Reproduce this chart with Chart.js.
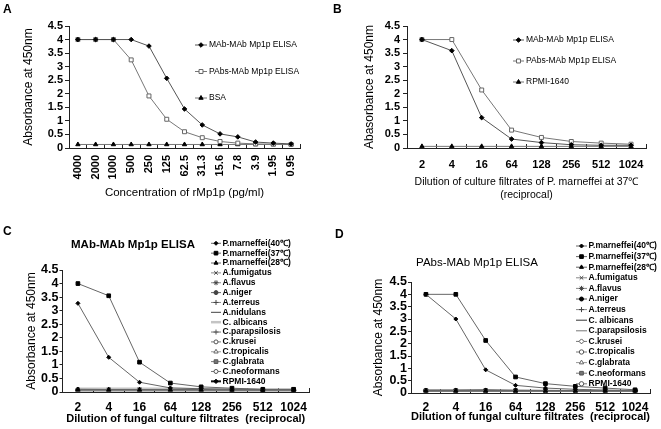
<!DOCTYPE html>
<html>
<head>
<meta charset="utf-8">
<script src="https://cdn.jsdelivr.net/npm/chart.js@4.4.1/dist/chart.umd.min.js"></script>
<style>
  body { margin: 0; background: #fff; }
  #wrap { position: relative; width: 661px; height: 429px; overflow: hidden; font-family: "Liberation Sans", Arial, sans-serif; }
  canvas { position: absolute; }
  .lbl { position: absolute; font-weight: bold; font-size: 12px; line-height: 12px; color: #000; }
  .ttl { position: absolute; font-size: 11.5px; line-height: 12px; color: #000; text-align: center; white-space: nowrap; }
</style>
</head>
<body>
<div id="wrap">
  <canvas id="cA" width="330" height="215" style="left:0;top:0"></canvas>
  <canvas id="cB" width="331" height="215" style="left:330px;top:0"></canvas>
  <canvas id="cC" width="330" height="214" style="left:0;top:215px"></canvas>
  <canvas id="cD" width="331" height="214" style="left:330px;top:215px"></canvas>
  <div class="lbl" style="left:3px;top:3px">A</div>
  <div class="lbl" style="left:333px;top:3px">B</div>
  <div class="lbl" style="left:3px;top:225px">C</div>
  <div class="lbl" style="left:335px;top:228px">D</div>
  <div class="ttl" style="left:60px;top:238px;width:146px;font-weight:bold">MAb-MAb Mp1p ELISA</div>
  <div class="ttl" style="left:404px;top:256px;width:146px">PAbs-MAb Mp1p ELISA</div>
</div>
<script>
// ---- data ----
const concLabels = ['4000', '2000', '1000', '500', '250', '125', '62.5', '31.3', '15.6', '7.8', '3.9', '1.95', '0.95'];
const aMabMab = [4, 4, 4, 4, 3.76, 2.57, 1.44, 0.85, 0.52, 0.41, 0.22, 0.18, 0.15];
const aPabsMab = [4, 4, 4, 3.25, 1.92, 1.06, 0.6, 0.38, 0.24, 0.18, 0.15, 0.14, 0.13];
const aBsa = [0.13, 0.13, 0.13, 0.13, 0.13, 0.13, 0.13, 0.13, 0.13, 0.13, 0.13, 0.13, 0.13];

const dilLabels = ['2', '4', '16', '64', '128', '256', '512', '1024'];
const bMabMab = [4, 3.59, 1.12, 0.33, 0.2, 0.12, 0.1, 0.1];
const bPabsMab = [4, 4, 2.14, 0.66, 0.39, 0.24, 0.18, 0.14];
const bRpmi = [0.06, 0.06, 0.06, 0.06, 0.06, 0.06, 0.06, 0.06];

// panel C, MAb-MAb Mp1p ELISA
const cNames = ['P.marneffei(40\u2103)', 'P.marneffei(37\u2103)', 'P.marneffei(28\u2103)', 'A.fumigatus', 'A.flavus', 'A.niger',
  'A.terreus', 'A.nidulans', 'C. albicans', 'C.parapsilosis', 'C.krusei', 'C.tropicalis', 'C.glabrata', 'C.neoformans', 'RPMI-1640'];
const cValues = [
  [3.27, 1.28, 0.36, 0.15, 0.12, 0.1, 0.09, 0.09],
  [4, 3.55, 1.1, 0.33, 0.19, 0.14, 0.1, 0.1],
  [0.1, 0.09, 0.09, 0.09, 0.09, 0.08, 0.08, 0.08],
  [0.08, 0.08, 0.08, 0.08, 0.08, 0.08, 0.08, 0.08],
  [0.07, 0.07, 0.07, 0.07, 0.07, 0.07, 0.07, 0.07],
  [0.08, 0.08, 0.08, 0.08, 0.08, 0.07, 0.07, 0.07],
  [0.07, 0.07, 0.07, 0.07, 0.07, 0.07, 0.07, 0.07],
  [0.06, 0.06, 0.06, 0.06, 0.06, 0.06, 0.06, 0.06],
  [0.12, 0.12, 0.12, 0.12, 0.1, 0.1, 0.08, 0.08],
  [0.07, 0.07, 0.07, 0.07, 0.07, 0.07, 0.07, 0.07],
  [0.06, 0.06, 0.06, 0.06, 0.06, 0.06, 0.06, 0.06],
  [0.07, 0.07, 0.07, 0.07, 0.07, 0.07, 0.07, 0.07],
  [0.08, 0.08, 0.08, 0.08, 0.08, 0.08, 0.08, 0.08],
  [0.07, 0.07, 0.07, 0.07, 0.07, 0.07, 0.07, 0.07],
  [0.06, 0.06, 0.06, 0.06, 0.06, 0.06, 0.06, 0.06]
];

// panel D, PAbs-MAb Mp1p ELISA
const dNames = ['P.marneffei(40\u2103)', 'P.marneffei(37\u2103)', 'P.marneffei(28\u2103)', 'A.fumigatus', 'A.flavus', 'A.niger',
  'A.terreus', 'C. albicans', 'C.parapsilosis', 'C.krusei', 'C.tropicalis', 'C.glabrata', 'C.neoformans', 'RPMI-1640'];
const dValues = [
  [4, 3, 0.94, 0.31, 0.2, 0.15, 0.12, 0.1],
  [4, 4, 2.13, 0.65, 0.38, 0.27, 0.2, 0.13],
  [0.1, 0.1, 0.1, 0.1, 0.1, 0.1, 0.1, 0.1],
  [0.09, 0.09, 0.09, 0.09, 0.09, 0.09, 0.09, 0.09],
  [0.09, 0.09, 0.09, 0.09, 0.09, 0.09, 0.09, 0.09],
  [0.1, 0.1, 0.1, 0.1, 0.1, 0.1, 0.1, 0.1],
  [0.09, 0.09, 0.09, 0.09, 0.09, 0.09, 0.09, 0.09],
  [0.08, 0.08, 0.08, 0.08, 0.08, 0.08, 0.08, 0.08],
  [0.13, 0.13, 0.14, 0.12, 0.11, 0.1, 0.1, 0.1],
  [0.09, 0.09, 0.09, 0.09, 0.09, 0.09, 0.09, 0.09],
  [0.1, 0.1, 0.1, 0.1, 0.1, 0.1, 0.1, 0.1],
  [0.09, 0.09, 0.09, 0.09, 0.09, 0.09, 0.09, 0.09],
  [0.1, 0.1, 0.1, 0.1, 0.1, 0.1, 0.1, 0.1],
  [0.09, 0.09, 0.09, 0.09, 0.09, 0.09, 0.09, 0.09]
];
const yTicks = [0, 0.5, 1, 1.5, 2, 2.5, 3, 3.5, 4, 4.5];

// ---- styles ----
const FONT = '"Liberation Sans", Arial, sans-serif';
// [pointStyle, radius, fill, border, lineColor, lineWidth]
const cStyles = [
  ['rectRot', 2, '#000', '#000', '#666', 1],
  ['rect', 2.6, '#000', '#000', '#666', 1],
  ['triangle', 2.3, '#000', '#000', '#666', 1],
  ['crossRot', 2.5, '#000', '#444', '#888', 1],
  ['star', 2.5, '#000', '#444', '#888', 1],
  ['circle', 2, '#444', '#444', '#666', 1],
  ['cross', 2.5, '#000', '#444', '#888', 1],
  [false, 0, '#000', '#000', '#444', 1],
  [false, 0, '#bbb', '#bbb', '#c4c4c4', 2.5],
  ['cross', 2.5, '#000', '#555', '#777', 1],
  ['circle', 2, '#fff', '#555', '#777', 1],
  ['triangle', 2.5, '#fff', '#666', '#999', 1],
  ['rect', 2.6, '#777', '#555', '#777', 1],
  ['circle', 2, '#fff', '#555', '#777', 1],
  ['rectRot', 2.2, '#000', '#000', '#111', 2]
];
const dStyles = [
  ['rectRot', 2, '#000', '#000', '#666', 1],
  ['rect', 2.6, '#000', '#000', '#666', 1],
  ['triangle', 2.3, '#000', '#000', '#666', 1],
  ['crossRot', 2.5, '#000', '#444', '#888', 1],
  ['star', 2.5, '#000', '#444', '#888', 1],
  ['circle', 2, '#000', '#000', '#555', 1],
  ['cross', 2.5, '#000', '#444', '#888', 1],
  [false, 0, '#000', '#000', '#333', 1],
  [false, 0, '#000', '#000', '#777', 1],
  ['rectRot', 2.5, '#fff', '#555', '#777', 1],
  ['circle', 2.2, '#fff', '#555', '#777', 1],
  ['triangle', 2.5, '#fff', '#666', '#999', 1],
  ['rect', 2.6, '#777', '#555', '#777', 1],
  ['circle', 2.2, '#fff', '#555', '#777', 1]
];

function mkSet(label, data, st) {
  return {
    label: label, data: data,
    borderColor: st[4], borderWidth: st[5],
    pointStyle: st[0], pointRadius: st[1],
    pointBackgroundColor: st[2], pointBorderColor: st[3], pointBorderWidth: 1,
    tension: 0, fill: false
  };
}

// legend drawn over the plot, like in the figure
const sideLegend = {
  id: 'sideLegend',
  afterDraw(chart, args, o) {
    const ctx = chart.ctx;
    ctx.save();
    ctx.font = o.font;
    ctx.textBaseline = 'middle';
    chart.data.datasets.forEach((ds, i) => {
      const y = o.y + i * o.dy;
      ctx.strokeStyle = ds.borderColor;
      ctx.lineWidth = ds.borderWidth;
      ctx.beginPath();
      ctx.moveTo(o.x, y);
      ctx.lineTo(o.x + o.len, y);
      ctx.stroke();
      if (ds.pointStyle) {
        ctx.fillStyle = ds.pointBackgroundColor;
        ctx.strokeStyle = ds.pointBorderColor;
        ctx.lineWidth = 1;
        Chart.helpers.drawPoint(ctx, { pointStyle: ds.pointStyle, radius: ds.pointRadius, borderWidth: 1, rotation: 0 }, o.x + o.len / 2, y);
      }
      ctx.fillStyle = '#000';
      ctx.fillText(ds.label, o.x + o.len + o.gap, y);
    });
    ctx.restore();
  }
};

function makePanel(id, p) {
  new Chart(document.getElementById(id), {
    type: 'line',
    data: { labels: p.labels, datasets: p.sets },
    plugins: [sideLegend],
    options: {
      responsive: false,
      animation: false,
      events: [],
      layout: { padding: { left: 0, top: p.top, right: p.right, bottom: 0 } },
      plugins: {
        legend: { display: false },
        tooltip: { enabled: false },
        sideLegend: p.legend
      },
      scales: {
        x: {
          type: 'category',
          offset: true,
          afterFit: (s) => { s.height = p.xHeight; },
          grid: { offset: true, drawOnChartArea: false, tickLength: -4, color: '#222' },
          border: { color: '#222', width: 1 },
          ticks: {
            autoSkip: false, minRotation: p.xRot, maxRotation: p.xRot, padding: p.xPad,
            color: '#000', font: { family: FONT, size: p.xFont, weight: 'bold' }
          },
          title: {
            display: true, text: p.xTitle, color: '#000',
            font: { family: FONT, size: p.xTitleSize, weight: p.xTitleWeight, lineHeight: 1.2 },
            padding: { top: 0, bottom: p.xTitlePad }
          }
        },
        y: {
          min: 0, max: 4.5,
          afterFit: (s) => { s.width = p.yWidth; },
          afterBuildTicks: (s) => { s.ticks = yTicks.map(v => ({ value: v })); },
          grid: { drawOnChartArea: false, tickLength: p.yTick, color: '#222' },
          border: { color: '#222', width: 1 },
          ticks: {
            autoSkip: false,
            padding: p.yPad, color: '#000',
            callback: (v) => String(v),
            font: { family: FONT, size: p.yFont, weight: 'bold' }
          },
          title: {
            display: true, text: p.yTitle, color: '#000',
            font: { family: FONT, size: 12, lineHeight: 1.2 },
            padding: { top: p.yTitlePad, bottom: 0 }
          }
        }
      }
    }
  });
}

makePanel('cA', {
  labels: concLabels,
  sets: [
    mkSet('MAb-MAb Mp1p ELISA', aMabMab, ['rectRot', 2.3, '#000', '#000', '#555', 1]),
    mkSet('PAbs-MAb Mp1p ELISA', aPabsMab, ['rect', 2.8, '#fff', '#666', '#777', 1]),
    mkSet('BSA', aBsa, ['triangle', 2.5, '#000', '#000', '#777', 1])
  ],
  top: 26, right: 30, xHeight: 67, yWidth: 69,
  xRot: 90, xPad: 11, xFont: 11,
  xTitle: 'Concentration of rMp1p (pg/ml)', xTitleSize: 11.5, xTitleWeight: 'normal', xTitlePad: 15,
  yTitle: 'Absorbance at 450nm', yTitlePad: 21, yTick: 4, yPad: 2, yFont: 11,
  legend: { x: 195, y: 45, dy: 26.5, len: 12, gap: 2, font: '8.5px ' + FONT }
});

makePanel('cB', {
  labels: dilLabels,
  sets: [
    mkSet('MAb-MAb Mp1p ELISA', bMabMab, ['rectRot', 2.3, '#000', '#000', '#555', 1]),
    mkSet('PAbs-MAb Mp1p ELISA', bPabsMab, ['rect', 2.8, '#fff', '#666', '#777', 1]),
    mkSet('RPMI-1640', bRpmi, ['triangle', 2.5, '#000', '#000', '#777', 1])
  ],
  top: 26, right: 15, xHeight: 67, yWidth: 77,
  xRot: 0, xPad: 14, xFont: 11,
  xTitle: ['Dilution of culture filtrates of P. marneffei at 37\u2103', '(reciprocal)'],
  xTitleSize: 10.5, xTitleWeight: 'normal', xTitlePad: 13.5,
  yTitle: 'Abasorbance at 450nm', yTitlePad: 32, yTick: 4, yPad: 3, yFont: 11,
  legend: { x: 183, y: 40, dy: 21, len: 11, gap: 2, font: '8.5px ' + FONT }
});

makePanel('cC', {
  labels: dilLabels,
  sets: cNames.map((n, i) => mkSet(n, cValues[i], cStyles[i])),
  top: 55, right: 21, xHeight: 37, yWidth: 62.5,
  xRot: 0, xPad: 12.5, xFont: 12,
  xTitle: 'Dilution of fungal culture filtrates  (reciprocal)', xTitleSize: 11, xTitleWeight: 'bold', xTitlePad: 3.4,
  yTitle: 'Absorbance at 450nm', yTitlePad: 24, yTick: 3, yPad: 1, yFont: 12.5,
  legend: { x: 211, y: 28.3, dy: 9.86, len: 10, gap: 1.5, font: 'bold 8.5px ' + FONT }
});

makePanel('cD', {
  labels: dilLabels,
  sets: dNames.map((n, i) => mkSet(n, dValues[i], dStyles[i])),
  top: 67, right: 11, xHeight: 36, yWidth: 81,
  xRot: 0, xPad: 11, xFont: 12,
  xTitle: 'Dilution of fungal culture filtrates  (reciprocal)', xTitleSize: 11, xTitleWeight: 'bold', xTitlePad: 5.7,
  yTitle: 'Absorbance at 450nm', yTitlePad: 41, yTick: 3, yPad: 1, yFont: 12.5,
  legend: { x: 246, y: 31, dy: 10.6, len: 11, gap: 1.5, font: 'bold 8.5px ' + FONT }
});
</script>
</body>
</html>
